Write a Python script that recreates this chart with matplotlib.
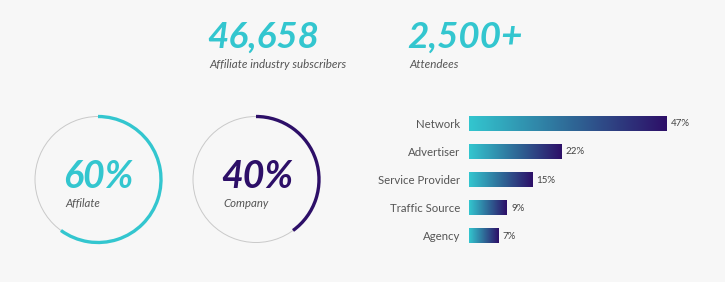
import numpy as np
import matplotlib
matplotlib.use("Agg")
import matplotlib.pyplot as plt
from matplotlib.patches import Circle, Arc
from matplotlib.colors import LinearSegmentedColormap

# ---- data ----
stat_values = ["46,658", "2,500+"]
stat_labels = ["Affiliate industry subscribers", "Attendees"]
ring_values = [60, 40]
ring_labels = ["Affilate", "Company"]
categories = ["Network", "Advertiser", "Service Provider", "Traffic Source", "Agency"]
shares = [47, 22, 15, 9, 7]

CYAN = "#33c6cf"
PURPLE = "#2d0f68"
BG = "#f7f7f7"
TXT = "#555555"

W, H = 725, 282
fig = plt.figure(figsize=(W / 100, H / 100), dpi=100, facecolor=BG)

# overlay axes in pixel coordinates
ov = fig.add_axes([0, 0, 1, 1])
ov.set_xlim(0, W)
ov.set_ylim(H, 0)
ov.axis("off")
ov.set_facecolor(BG)

numfont = dict(family="Lato", style="italic", weight="bold")
lblfont = dict(family="Lato", style="italic")

# top stats
stat_x = [207, 407]
for x, v, l in zip(stat_x, stat_values, stat_labels):
    ov.text(x, 48, v, color=CYAN, fontsize=26.5, va="baseline", ha="left", **numfont)
    ov.text(x + 2, 68, l, color=TXT, fontsize=8.4, va="baseline", ha="left", **lblfont)

# rings
centers = [(98, 179.5), (256, 179.5)]
ring_colors = [CYAN, PURPLE]
R = 63
for (cx, cy), v, l, c in zip(centers, ring_values, ring_labels, ring_colors):
    ov.add_patch(Circle((cx, cy), R, fill=False, ec="#c9c9c9", lw=0.7))
    ov.add_patch(Arc((cx, cy), 2 * R, 2 * R, theta1=-90, theta2=-90 + 360 * v / 100,
                     color=c, lw=2.4))
    ov.text(cx - 35, 188, f"{v}%", color=c, fontsize=27, va="baseline", ha="left", **numfont)
    ov.text(cx - 33, 207, l, color=TXT, fontsize=8.2, va="baseline", ha="left", **lblfont)

# bar chart
px_per_pct = 4.21
x0 = 469
xmax = 60
spacing = 28.1
top = 123.3 - spacing / 2
ax_h = spacing * len(categories)
ax = fig.add_axes([x0 / W, (H - top - ax_h) / H, xmax * px_per_pct / W, ax_h / H])
ax.set_facecolor("none")
ypos = np.arange(len(categories))
bh = 15 / spacing
bars = ax.barh(ypos, shares, height=bh, color="none", edgecolor="none")
cmap = LinearSegmentedColormap.from_list("g", [CYAN, "#2f6b98", PURPLE])
grad = np.linspace(0, 1, 256).reshape(1, -1)
for b, v, y in zip(bars, shares, ypos):
    im = ax.imshow(grad, cmap=cmap, aspect="auto",
                   extent=(0, v, y + bh / 2, y - bh / 2), interpolation="bilinear")
    im.set_clip_path(b)
    ax.text(v + 1, y + 0.02, f"{v}%", va="center", ha="left", fontsize=7,
            color="#444444", family="Lato")
ax.set_xlim(0, xmax)
ax.set_ylim(len(categories) - 0.5, -0.5)
ax.set_yticks(ypos)
ax.set_yticklabels(categories, fontsize=8.2, color=TXT, family="Lato")
ax.tick_params(axis="y", length=0, pad=6.5)
ax.set_xticks([])
for s in ax.spines.values():
    s.set_visible(False)

fig.savefig("out.png", dpi=100, facecolor=BG)
